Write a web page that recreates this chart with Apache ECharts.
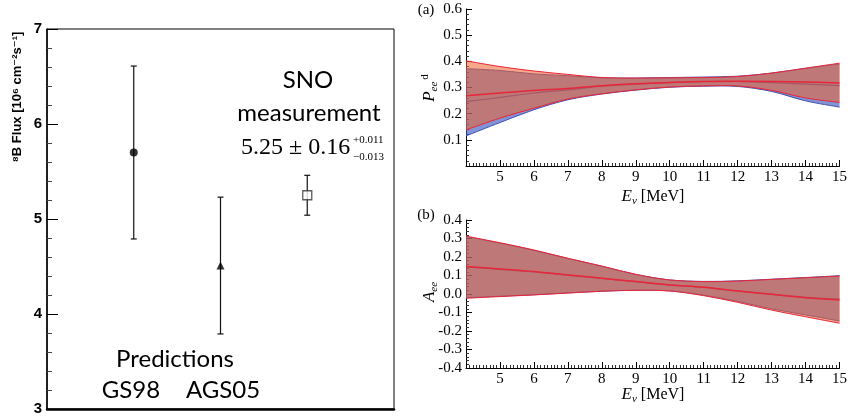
<!DOCTYPE html>
<html><head><meta charset="utf-8">
<script src="https://cdn.jsdelivr.net/npm/echarts@6/dist/echarts.min.js"></script>
<style>html,body{margin:0;padding:0;background:#fff}#c{width:850px;height:419px}</style>
</head><body><div id="c"></div>
<script>
// ---- Left panel: 8B flux ----
const fluxNames = ['GS98', 'AGS05', 'SNO'];
const fluxX = [1, 2, 3];
const fluxVal = [5.70, 4.51, 5.25];
const fluxHigh = [6.61, 5.23, 5.46];
const fluxLow = [4.79, 3.79, 5.04];
const fluxSymbols = ['circle', 'triangle', 'rect'];
const fluxTicks = [3, 4, 5, 6, 7];

// ---- Right panels: energy grid ----
const energy = [4, 5, 6, 7, 8, 9, 10, 11, 12, 13, 14, 15];
const energyTicks = [5, 6, 7, 8, 9, 10, 11, 12, 13, 14, 15];

// (a) P_ee^d
const redUpperA  = [0.402, 0.380, 0.363, 0.350, 0.338, 0.336, 0.337, 0.338, 0.342, 0.355, 0.374, 0.393];
const redCenterA = [0.268, 0.279, 0.289, 0.296, 0.307, 0.314, 0.319, 0.323, 0.324, 0.323, 0.321, 0.317];
const redLowerA  = [0.138, 0.183, 0.221, 0.256, 0.276, 0.291, 0.302, 0.306, 0.306, 0.289, 0.260, 0.243];
const blueUpperA  = [0.372, 0.365, 0.352, 0.345, 0.337, 0.336, 0.338, 0.340, 0.343, 0.355, 0.373, 0.390];
const blueCenterA = [0.246, 0.262, 0.279, 0.291, 0.305, 0.313, 0.319, 0.323, 0.323, 0.319, 0.313, 0.307];
const blueLowerA  = [0.115, 0.166, 0.215, 0.253, 0.275, 0.290, 0.301, 0.305, 0.304, 0.285, 0.249, 0.225];

// (b) A_ee
const redUpperB  = [0.313, 0.277, 0.238, 0.193, 0.151, 0.106, 0.076, 0.067, 0.070, 0.079, 0.088, 0.097];
const redCenterB = [0.148, 0.135, 0.121, 0.103, 0.085, 0.067, 0.049, 0.036, 0.016, -0.002, -0.020, -0.032];
const redLowerB  = [-0.023, -0.014, -0.005, 0.005, 0.015, 0.020, 0.016, -0.009, -0.045, -0.087, -0.123, -0.158];
const blueUpperB  = [0.310, 0.275, 0.236, 0.192, 0.150, 0.106, 0.076, 0.068, 0.071, 0.080, 0.089, 0.099];
const blueCenterB = [0.146, 0.133, 0.119, 0.102, 0.084, 0.067, 0.049, 0.036, 0.017, -0.001, -0.018, -0.028];
const blueLowerB  = [-0.020, -0.012, -0.004, 0.006, 0.015, 0.020, 0.017, -0.006, -0.040, -0.080, -0.113, -0.146];

const SERIF = "'Liberation Serif', 'DejaVu Serif', serif";
const SANS = "Lato, 'Open Sans', sans-serif";

const RED_FILL = 'rgba(241,97,44,0.55)', RED_LINE = 'rgb(232,38,58)';
const BLUE_FILL = 'rgba(60,90,190,0.65)', BLUE_LINE = 'rgb(70,80,175)';

// Catmull-Rom -> cubic bezier through pixel points
function curvePath(pts) {
  const t = 1 / 6;
  let d = '';
  for (let i = 0; i < pts.length - 1; i++) {
    const p0 = pts[Math.max(i - 1, 0)], p1 = pts[i], p2 = pts[i + 1], p3 = pts[Math.min(i + 2, pts.length - 1)];
    const c1 = [p1[0] + (p2[0] - p0[0]) * t, p1[1] + (p2[1] - p0[1]) * t];
    const c2 = [p2[0] - (p3[0] - p1[0]) * t, p2[1] - (p3[1] - p1[1]) * t];
    d += ' C' + c1[0] + ',' + c1[1] + ' ' + c2[0] + ',' + c2[1] + ' ' + p2[0] + ',' + p2[1];
  }
  return d;
}

function bandSeries(idx, lower, upper, fill, lineColor, z) {
  return {
    type: 'custom', xAxisIndex: idx, yAxisIndex: idx, silent: true, clip: true, z: z,
    data: energy.map((e, i) => [e, lower[i], upper[i]]),
    encode: { x: 0, y: [1, 2] },
    renderItem: function (params, api) {
      if (params.dataIndexInside !== 0) return null;
      const n = params.dataInsideLength;
      const lo = [], up = [];
      for (let j = 0; j < n; j++) {
        lo.push(api.coord([api.value(0, j), api.value(1, j)]));
        up.push(api.coord([api.value(0, j), api.value(2, j)]));
      }
      const loRev = lo.slice().reverse();
      const area = 'M' + up[0][0] + ',' + up[0][1] + curvePath(up) +
        ' L' + loRev[0][0] + ',' + loRev[0][1] + curvePath(loRev) + ' Z';
      const upLine = 'M' + up[0][0] + ',' + up[0][1] + curvePath(up);
      const loLine = 'M' + lo[0][0] + ',' + lo[0][1] + curvePath(lo);
      return { type: 'group', children: [
        { type: 'path', shape: { pathData: area }, style: { fill: fill, stroke: null } },
        { type: 'path', shape: { pathData: upLine }, style: { fill: null, stroke: lineColor, lineWidth: 1 } },
        { type: 'path', shape: { pathData: loLine }, style: { fill: null, stroke: lineColor, lineWidth: 1 } }
      ] };
    }
  };
}
function lineSeries(idx, vals, color, width, z) {
  return {
    type: 'custom', xAxisIndex: idx, yAxisIndex: idx, silent: true, clip: true, z: z,
    data: energy.map((e, i) => [e, vals[i]]),
    encode: { x: 0, y: 1 },
    renderItem: function (params, api) {
      if (params.dataIndexInside !== 0) return null;
      const n = params.dataInsideLength;
      const pts = [];
      for (let j = 0; j < n; j++) pts.push(api.coord([api.value(0, j), api.value(1, j)]));
      return { type: 'path', shape: { pathData: 'M' + pts[0][0] + ',' + pts[0][1] + curvePath(pts) },
        style: { fill: null, stroke: color, lineWidth: width } };
    }
  };
}

function rightX(idx) {
  return { gridIndex: idx, type: 'value', min: 4, max: 15, interval: 1,
    axisLine: { show: true, onZero: false, lineStyle: { color: '#000', width: 1 } },
    axisTick: { show: true, inside: true, length: 6, lineStyle: { color: '#000' } },
    minorTick: { show: true, splitNumber: 10, length: 3, lineStyle: { color: '#333' } },
    axisLabel: { color: '#000', fontFamily: SERIF, fontSize: 15, margin: 4,
      formatter: v => energyTicks.indexOf(v) >= 0 ? String(v) : '' },
    splitLine: { show: false } };
}
function rightY(idx, min, max, hideZero) {
  return { gridIndex: idx, type: 'value', min: min, max: max, interval: 0.1,
    axisLine: { show: true, onZero: false, lineStyle: { color: '#000', width: 1 } },
    axisTick: { show: true, inside: true, length: 6, lineStyle: { color: '#000' } },
    minorTick: { show: true, splitNumber: 5, length: 3, lineStyle: { color: '#333' } },
    axisLabel: { color: '#000', fontFamily: SERIF, fontSize: 15, margin: 4,
      formatter: v => (hideZero && Math.abs(v) < 1e-9) ? '' : v.toFixed(1) },
    splitLine: { show: false } };
}

const chart = echarts.init(document.getElementById('c'), null, { renderer: 'canvas' });

const subRich = {
  m: { fontFamily: SERIF, fontStyle: 'italic', fontSize: 17, lineHeight: 20, verticalAlign: 'middle' },
  s: { fontFamily: SERIF, fontStyle: 'italic', fontSize: 11, lineHeight: 20, verticalAlign: 'bottom' },
  u: { fontFamily: SERIF, fontSize: 11, lineHeight: 20, verticalAlign: 'top', padding: [0, 0, 0, 2] },
  r: { fontFamily: SERIF, fontSize: 16, lineHeight: 20, verticalAlign: 'middle' }
};

const option = {
  animation: false,
  backgroundColor: '#fff',
  grid: [
    { left: 47, top: 29, width: 347, height: 380, show: true, borderColor: '#000', borderWidth: 1, backgroundColor: 'transparent' },
    { left: 466, top: 9, width: 375, height: 157 },
    { left: 466, top: 220, width: 375, height: 148 }
  ],
  xAxis: [
    { gridIndex: 0, type: 'value', min: 0, max: 4,
      axisLine: { show: true, onZero: false, lineStyle: { color: '#000', width: 2.5 } },
      axisTick: { show: false }, axisLabel: { show: false }, splitLine: { show: false } },
    rightX(1), rightX(2)
  ],
  yAxis: [
    { gridIndex: 0, type: 'value', min: 3, max: 7, interval: 1,
      axisLine: { show: true, lineStyle: { color: '#000', width: 1.5 } },
      axisTick: { show: true, inside: true, length: 11, lineStyle: { color: '#000', width: 1 } },
      minorTick: { show: true, splitNumber: 5, length: 5, lineStyle: { color: '#444' } },
      axisLabel: { color: '#000', fontFamily: "'Liberation Sans', Arial, sans-serif", fontWeight: 'bold', fontSize: 15, margin: 5,
        formatter: v => fluxTicks.indexOf(v) >= 0 ? String(v) : '' },
      splitLine: { show: false } },
    rightY(1, 0, 0.6, true), rightY(2, -0.4, 0.4, false)
  ],
  series: [
    { type: 'custom', xAxisIndex: 0, yAxisIndex: 0, silent: true, z: 2,
      data: fluxX.map((x, i) => [x, fluxLow[i], fluxHigh[i]]),
      encode: { x: 0, y: [1, 2] },
      renderItem: function (params, api) {
        const x = api.value(0);
        const a = api.coord([x, api.value(1)]);
        const b = api.coord([x, api.value(2)]);
        const w = 3;
        const st = { stroke: '#111', lineWidth: 1.2 };
        return { type: 'group', children: [
          { type: 'line', shape: { x1: a[0], y1: a[1], x2: b[0], y2: b[1] }, style: st },
          { type: 'line', shape: { x1: a[0] - w, y1: a[1], x2: a[0] + w, y2: a[1] }, style: st },
          { type: 'line', shape: { x1: b[0] - w, y1: b[1], x2: b[0] + w, y2: b[1] }, style: st }
        ] };
      } },
    { type: 'scatter', xAxisIndex: 0, yAxisIndex: 0, silent: true, z: 3,
      data: fluxX.map((x, i) => ({
        value: [x, fluxVal[i]], name: fluxNames[i], symbol: fluxSymbols[i],
        symbolSize: fluxSymbols[i] === 'rect' ? 9 : 8,
        itemStyle: fluxSymbols[i] === 'rect'
          ? { color: '#fff', borderColor: '#333', borderWidth: 1.3 }
          : { color: '#000' }
      })) },

    // (a)
    bandSeries(1, blueLowerA, blueUpperA, BLUE_FILL, BLUE_LINE, 2),
    lineSeries(1, blueCenterA, BLUE_LINE, 1.2, 3),
    bandSeries(1, redLowerA, redUpperA, RED_FILL, RED_LINE, 4),
    lineSeries(1, redCenterA, RED_LINE, 1.5, 5),

    // (b)
    bandSeries(2, blueLowerB, blueUpperB, BLUE_FILL, BLUE_LINE, 2),
    lineSeries(2, blueCenterB, BLUE_LINE, 1.2, 3),
    bandSeries(2, redLowerB, redUpperB, RED_FILL, RED_LINE, 4),
    lineSeries(2, redCenterB, RED_LINE, 1.5, 5)
  ],
  graphic: [
    { type: 'text', x: 17, y: 97, rotation: Math.PI / 2,
      style: { text: '⁸B Flux [10⁶ cm⁻²s⁻¹]', fill: '#000', align: 'center', verticalAlign: 'middle',
        font: "bold 13px 'Liberation Sans', 'DejaVu Sans', sans-serif" } },
    { type: 'text', x: 308, y: 80, style: { text: 'SNO', fill: '#000', align: 'center', verticalAlign: 'middle', font: '24px ' + SANS } },
    { type: 'text', x: 309, y: 113, style: { text: 'measurement', fill: '#000', align: 'center', verticalAlign: 'middle', font: '24px ' + SANS } },
    { type: 'text', x: 241, y: 148, style: { text: '5.25 ± 0.16', fill: '#000', align: 'left', verticalAlign: 'middle', font: '24px ' + SERIF } },
    { type: 'text', x: 353, y: 140, style: { text: '+0.011', fill: '#000', align: 'left', verticalAlign: 'middle', font: '11px ' + SERIF } },
    { type: 'text', x: 353, y: 157, style: { text: '−0.013', fill: '#000', align: 'left', verticalAlign: 'middle', font: '11px ' + SERIF } },
    { type: 'text', x: 175, y: 359, style: { text: 'Predictions', fill: '#000', align: 'center', verticalAlign: 'middle', font: '24px ' + SANS } },
    { type: 'text', x: 131, y: 390, style: { text: fluxNames[0], fill: '#000', align: 'center', verticalAlign: 'middle', font: '24px ' + SANS } },
    { type: 'text', x: 223, y: 390, style: { text: fluxNames[1], fill: '#000', align: 'center', verticalAlign: 'middle', font: '24px ' + SANS } },

    { type: 'text', x: 426, y: 10, style: { text: '(a)', fill: '#000', align: 'center', verticalAlign: 'middle', font: '15px ' + SERIF } },
    { type: 'text', x: 426, y: 215, style: { text: '(b)', fill: '#000', align: 'center', verticalAlign: 'middle', font: '15px ' + SERIF } },
    { type: 'text', x: 430, y: 88, rotation: Math.PI / 2,
      style: { text: '{m|P}{s|ee}{u|d}', fill: '#000', align: 'center', verticalAlign: 'middle', rich: subRich } },
    { type: 'text', x: 430, y: 292, rotation: Math.PI / 2,
      style: { text: '{m|A}{s|ee}', fill: '#000', align: 'center', verticalAlign: 'middle', rich: subRich } },
    { type: 'text', x: 653, y: 197,
      style: { text: '{m|E}{s|ν}{r| [MeV]}', fill: '#000', align: 'center', verticalAlign: 'middle', rich: subRich } },
    { type: 'text', x: 653, y: 395,
      style: { text: '{m|E}{s|ν}{r| [MeV]}', fill: '#000', align: 'center', verticalAlign: 'middle', rich: subRich } }
  ]
};
chart.setOption(option);
</script></body></html>
